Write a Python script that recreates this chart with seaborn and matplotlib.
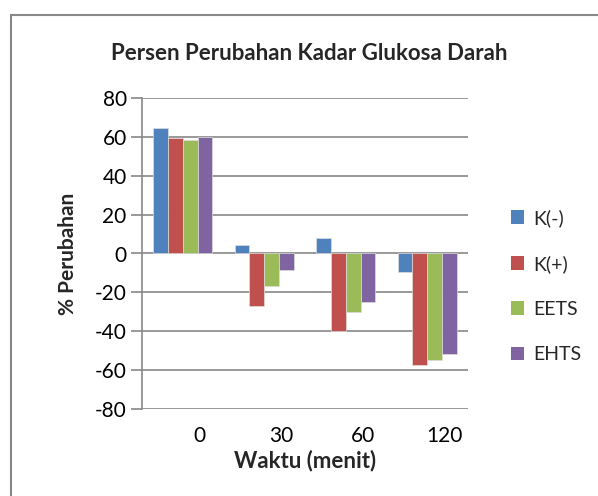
import numpy as np
import pandas as pd
import seaborn as sns
import matplotlib.pyplot as plt
import matplotlib.transforms as mtransforms
from matplotlib.patches import Rectangle, Patch

categories = ["0", "30", "60", "120"]
series = ["K(-)", "K(+)", "EETS", "EHTS"]
k_min = [64.6, 4.3, 7.9, -9.6]
k_plus = [59.3, -26.9, -40.0, -57.5]
eets = [58.6, -16.9, -30.0, -54.6]
ehts = [60.0, -8.4, -24.8, -51.5]
colors = ["#4F81BD", "#C0504D", "#9BBB59", "#8064A2"]

rows = []
for name, vals in zip(series, [k_min, k_plus, eets, ehts]):
    for c, v in zip(categories, vals):
        rows.append({"Waktu": c, "Seri": name, "Nilai": v})
df = pd.DataFrame(rows)

sns.set_theme(style="white")
plt.rcParams["font.family"] = ["Lato", "DejaVu Sans"]
plt.rcParams["axes.unicode_minus"] = False

W, H = 598, 496
fig = plt.figure(figsize=(W / 100, H / 100), dpi=100)
ax = fig.add_axes([142 / W, 1 - 409 / H, (468 - 142) / W, (409 - 98) / H])

sns.barplot(data=df, x="Waktu", y="Nilai", hue="Seri", order=categories,
            hue_order=series, palette=colors, width=0.73, saturation=1,
            ax=ax, legend=False, errorbar=None, linewidth=0.5, edgecolor="#dddddd")

ax.set_ylim(-80, 80)
ax.set_yticks(np.arange(-80, 81, 20))
ax.yaxis.grid(True, color="#878787", linewidth=1.2)
ax.set_axisbelow(True)
for s in ["top", "right", "bottom"]:
    ax.spines[s].set_visible(False)
ax.spines["left"].set_color("#878787")
ax.spines["left"].set_linewidth(1.2)
ax.tick_params(axis="y", left=True, length=8, width=1.2, color="#878787",
               labelsize=15, pad=3, labelcolor="black")
ax.tick_params(axis="x", bottom=False, labelsize=15, pad=6, labelcolor="black")
offset = mtransforms.ScaledTranslation(17 / 100, 0, fig.dpi_scale_trans)
for lbl in ax.get_xticklabels():
    lbl.set_transform(lbl.get_transform() + offset)

ax.set_xlabel("Waktu (menit)", fontsize=16, fontweight="bold", labelpad=3)
ax.set_ylabel("% Perubahan", fontsize=15, fontweight="bold", labelpad=12)
ax.set_xlim(-0.5, 3.5)

fig.text(309 / W, 1 - 54 / H, "Persen Perubahan Kadar Glukosa Darah",
         ha="center", va="center", fontsize=16, fontweight="bold")

handles = [Patch(facecolor=c, edgecolor="none") for c in colors]
fig.legend(handles, series, loc="center left", bbox_to_anchor=(503 / W, 1 - 286 / H),
           frameon=False, fontsize=14, handlelength=0.7, handleheight=0.7,
           handletextpad=0.45, labelspacing=1.45, borderaxespad=0)

fig.patches.append(Rectangle((11 / W, -0.1), 2, 1 - 15 / H + 0.1,
                             transform=fig.transFigure, fill=False,
                             edgecolor="#878787", linewidth=1.5))

fig.savefig("out.png", dpi=100)
